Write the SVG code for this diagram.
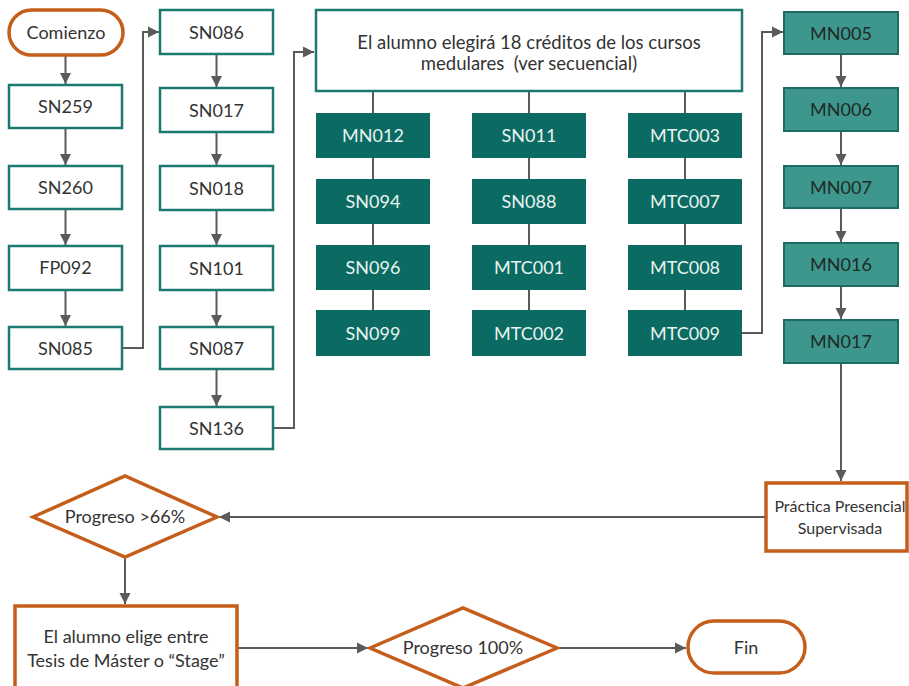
<svg xmlns="http://www.w3.org/2000/svg" width="909" height="686" viewBox="0 0 909 686">
<style>
text{font-family:Lato,"Open Sans","Liberation Sans",sans-serif;font-size:18px;text-anchor:middle;fill:#333}
.wb{fill:#fff;stroke:#1a7a70;stroke-width:2.5}
.tb{fill:#0b6b62;stroke:none}
.tt{fill:#e8f3f1}
.mb{fill:#3d978d;stroke:#1e6b63;stroke-width:2}
.mt{fill:#1f2a29}
.ob{fill:#fff;stroke:#c55e1a;stroke-width:3.5}
.ln{fill:none;stroke:#5a5a5a;stroke-width:2}
.ar{marker-end:url(#ah)}
</style>
<defs>
<marker id="ah" markerUnits="userSpaceOnUse" viewBox="0 0 10 10" refX="10" refY="5" markerWidth="11" markerHeight="12" orient="auto">
<path d="M0,0 L10,5 L0,10 z" fill="#5a5a5a"/>
</marker>
</defs>
<rect width="909" height="686" fill="#fff"/>
<g id="connectors">
<line class="ln ar" x1="65.5" y1="55" x2="65.5" y2="84"/>
<line class="ln ar" x1="65.5" y1="128" x2="65.5" y2="165"/>
<line class="ln ar" x1="65.5" y1="209" x2="65.5" y2="245"/>
<line class="ln ar" x1="65.5" y1="290" x2="65.5" y2="326"/>
<polyline class="ln ar" points="122,348 143,348 143,32 159,32"/>
<line class="ln ar" x1="216.5" y1="54" x2="216.5" y2="87"/>
<line class="ln ar" x1="216.5" y1="132" x2="216.5" y2="165"/>
<line class="ln ar" x1="216.5" y1="210" x2="216.5" y2="245"/>
<line class="ln ar" x1="216.5" y1="290" x2="216.5" y2="326"/>
<line class="ln ar" x1="216.5" y1="369" x2="216.5" y2="406"/>
<polyline class="ln ar" points="273,428 294,428 294,52 314,52"/>
<line class="ln" x1="373" y1="91" x2="373" y2="310"/>
<line class="ln" x1="529" y1="91" x2="529" y2="310"/>
<line class="ln" x1="685" y1="91" x2="685" y2="310"/>
<polyline class="ln ar" points="742,333 762,333 762,32 783,32"/>
<line class="ln ar" x1="841" y1="54" x2="841" y2="87"/>
<line class="ln ar" x1="841" y1="131" x2="841" y2="165"/>
<line class="ln ar" x1="841" y1="208" x2="841" y2="242"/>
<line class="ln ar" x1="841" y1="286" x2="841" y2="319"/>
<line class="ln ar" x1="841" y1="363" x2="841" y2="481"/>
<line class="ln ar" x1="765" y1="517" x2="219" y2="517"/>
<line class="ln ar" x1="125" y1="557" x2="125" y2="604"/>
<line class="ln ar" x1="237" y1="648" x2="368" y2="648"/>
<line class="ln ar" x1="557" y1="648" x2="686" y2="648"/>
</g>
<g id="comienzo"><rect class="ob" x="9" y="10" width="114" height="45" rx="22.5"/><text x="66" y="39">Comienzo</text></g>
<g id="sn259"><rect class="wb" x="9" y="85" width="113" height="43"/><text x="65.5" y="113">SN259</text></g>
<g id="sn260"><rect class="wb" x="9" y="166" width="113" height="43"/><text x="65.5" y="194">SN260</text></g>
<g id="fp092"><rect class="wb" x="9" y="246" width="113" height="44"/><text x="65.5" y="274">FP092</text></g>
<g id="sn085"><rect class="wb" x="9" y="327" width="113" height="42"/><text x="65.5" y="355">SN085</text></g>
<g id="sn086"><rect class="wb" x="160" y="10" width="113" height="44"/><text x="216.5" y="38.5">SN086</text></g>
<g id="sn017"><rect class="wb" x="160" y="88" width="113" height="44"/><text x="216.5" y="116.5">SN017</text></g>
<g id="sn018"><rect class="wb" x="160" y="166" width="113" height="44"/><text x="216.5" y="194.5">SN018</text></g>
<g id="sn101"><rect class="wb" x="160" y="246" width="113" height="44"/><text x="216.5" y="274.5">SN101</text></g>
<g id="sn087"><rect class="wb" x="160" y="327" width="113" height="42"/><text x="216.5" y="355">SN087</text></g>
<g id="sn136"><rect class="wb" x="160" y="407" width="113" height="42"/><text x="216.5" y="435">SN136</text></g>
<g id="medulares"><rect class="wb" x="316" y="10" width="426" height="81"/><text x="529" y="49" style="font-size:18.5px">El alumno elegirá 18 créditos de los cursos</text><text x="529" y="70" style="font-size:18.5px" xml:space="preserve">medulares  (ver secuencial)</text></g>
<g id="mn012"><rect class="tb" x="316" y="113" width="114" height="45"/><text class="tt" x="373" y="142">MN012</text></g>
<g id="sn094"><rect class="tb" x="316" y="179" width="114" height="45"/><text class="tt" x="373" y="208">SN094</text></g>
<g id="sn096"><rect class="tb" x="316" y="245" width="114" height="45"/><text class="tt" x="373" y="274">SN096</text></g>
<g id="sn099"><rect class="tb" x="316" y="310" width="114" height="46"/><text class="tt" x="373" y="340">SN099</text></g>
<g id="sn011"><rect class="tb" x="472" y="113" width="114" height="45"/><text class="tt" x="529" y="142">SN011</text></g>
<g id="sn088"><rect class="tb" x="472" y="179" width="114" height="45"/><text class="tt" x="529" y="208">SN088</text></g>
<g id="mtc001"><rect class="tb" x="472" y="245" width="114" height="45"/><text class="tt" x="529" y="274">MTC001</text></g>
<g id="mtc002"><rect class="tb" x="472" y="310" width="114" height="46"/><text class="tt" x="529" y="340">MTC002</text></g>
<g id="mtc003"><rect class="tb" x="628" y="113" width="114" height="45"/><text class="tt" x="685" y="142">MTC003</text></g>
<g id="mtc007"><rect class="tb" x="628" y="179" width="114" height="45"/><text class="tt" x="685" y="208">MTC007</text></g>
<g id="mtc008"><rect class="tb" x="628" y="245" width="114" height="45"/><text class="tt" x="685" y="274">MTC008</text></g>
<g id="mtc009"><rect class="tb" x="628" y="310" width="114" height="46"/><text class="tt" x="685" y="340">MTC009</text></g>
<g id="mn005"><rect class="mb" x="784" y="12" width="114" height="42"/><text class="mt" x="841" y="39.5">MN005</text></g>
<g id="mn006"><rect class="mb" x="784" y="88" width="114" height="43"/><text class="mt" x="841" y="116">MN006</text></g>
<g id="mn007"><rect class="mb" x="784" y="166" width="114" height="42"/><text class="mt" x="841" y="193.5">MN007</text></g>
<g id="mn016"><rect class="mb" x="784" y="243" width="114" height="43"/><text class="mt" x="841" y="271">MN016</text></g>
<g id="mn017"><rect class="mb" x="784" y="320" width="114" height="43"/><text class="mt" x="841" y="348">MN017</text></g>
<g id="practica"><rect class="ob" x="766" y="483" width="141" height="68"/><text x="840" y="512" style="font-size:16px">Práctica Presencial</text><text x="840" y="534" style="font-size:16px">Supervisada</text></g>
<g id="progreso66"><polygon class="ob" points="33,517 125,476 217,517 125,557"/><text x="125" y="523">Progreso &gt;66%</text></g>
<g id="elige"><rect class="ob" x="15" y="606" width="222" height="90"/><text x="126" y="643">El alumno elige entre</text><text x="126" y="667">Tesis de Máster o “Stage”</text></g>
<g id="progreso100"><polygon class="ob" points="370,648 463,608 557,648 463,688"/><text x="463" y="654">Progreso 100%</text></g>
<g id="fin"><rect class="ob" x="688" y="621" width="117" height="52" rx="26"/><text x="746" y="654">Fin</text></g>
</svg>
